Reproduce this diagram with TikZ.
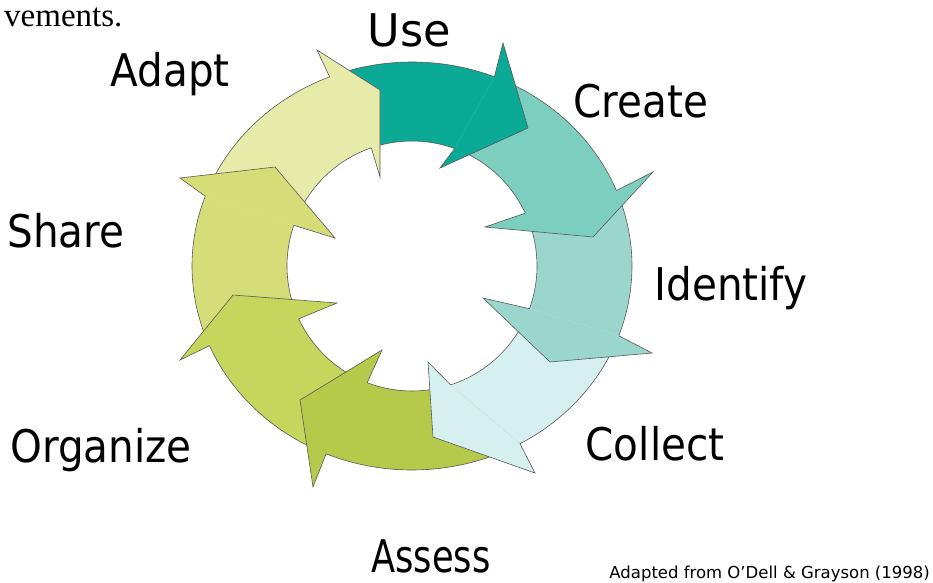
\documentclass[tikz,border=0pt]{standalone}
\usepackage{fontspec}
\newfontfamily\lblfont{DejaVu Sans}[FakeStretch=0.9]
\newfontfamily\notefont{DejaVu Sans}
\newfontfamily\txtfont{Liberation Serif}
\definecolor{cUse}{RGB}{10,170,150}
\definecolor{cCreate}{RGB}{124,207,191}
\definecolor{cIdentify}{RGB}{155,214,204}
\definecolor{cCollect}{RGB}{214,240,240}
\definecolor{cAssess}{RGB}{181,201,74}
\definecolor{cOrganize}{RGB}{196,214,92}
\definecolor{cShare}{RGB}{212,221,120}
\definecolor{cAdapt}{RGB}{230,235,170}
\tikzset{
  ringedge/.style={draw=black!65, line width=0.6pt, line join=miter},
  lbl/.style={font=\lblfont\fontsize{45}{50}\selectfont, anchor=base, inner sep=0pt},
}
% color, outer start, inner start, outer end, inner end
\newcommand\ringbody[5]{%
  \fill[#1] (#2:220 and 204) arc[start angle=#2, end angle=#4, x radius=220, y radius=204]
     -- (#5:125) arc[start angle=#5, end angle=#3, radius=125] -- cycle;
  \draw[ringedge] (#2:220 and 204) arc[start angle=#2, end angle=#4, x radius=220, y radius=204];
  \draw[ringedge] (#3:125) arc[start angle=#3, end angle=#5, radius=125];
}
% color, outer notch angle, inner notch angle, outer barb, tip, inner barb
\newcommand\ringhead[6]{%
  \fill[#1] (#2:220 and 204) -- (#4) -- (#5) -- (#6) -- (#3:125) -- cycle;
  \draw[ringedge] (#2:220 and 204) -- (#4) -- (#5) -- (#6) -- (#3:125);
}
\begin{document}
\begin{tikzpicture}[x=1pt,y=1pt]
\useasboundingbox (0,0) rectangle (933,582);
\fill[white] (0,0) rectangle (933,582);
\begin{scope}[shift={(412,316)}]
  % bodies
  \ringbody{cUse}{112}{109}{66}{68}
  \ringbody{cCreate}{68}{70}{19.7}{23}
  \ringbody{cIdentify}{21.7}{25}{-22}{-22}
  \ringbody{cCollect}{-20}{-20}{-62.6}{-74}
  \ringbody{cAssess}{-60.6}{-72}{-115}{-113}
  \ringbody{cOrganize}{-113}{-111}{-159}{-157}
  \ringbody{cShare}{203}{205}{158}{159}
  \ringbody{cAdapt}{160}{161}{110}{107}
  % heads
  \ringhead{cUse}{68}{70}{91,223}{116,138}{28,98}
  \ringhead{cCreate}{21.7}{25}{241,94}{181,29}{73,39}
  \ringhead{cIdentify}{-20}{-20}{240,-87}{138,-96}{71,-32}
  \ringhead{cCollect}{-60.6}{-72}{123,-207}{21,-171}{16,-96}
  \ringhead{cAssess}{-113}{-111}{-99,-221}{-112,-134}{-30,-84}
  \ringhead{cOrganize}{-157}{-155}{-232,-94}{-179,-29}{-75,-37}
  \ringhead{cShare}{160}{161}{-232,88}{-137,99}{-77,28}
  \ringhead{cAdapt}{112}{109}{-95,216}{-32,176}{-32,89}
\end{scope}
% labels
\node[lbl, transform shape, xscale=1.1] (use) at (409,535) {Use};
\node[lbl] (adapt) at (170,495) {Adapt};
\node[lbl] (create) at (641,464) {Create};
\node[lbl] (share) at (66,335) {Share};
\node[lbl] (identify) at (731,282) {Identify};
\node[lbl] (organize) at (101,120) {Organize};
\node[lbl] (collect) at (655,122) {Collect};
\node[lbl, transform shape, xscale=0.87] (assess) at (431,10) {Assess};
\node[font=\notefont\fontsize{16.5}{19}\selectfont, anchor=base east, inner sep=0pt] (note) at (930,3.5) {Adapted from O’Dell \& Grayson (1998)};
\node[font=\txtfont\fontsize{33}{40}\selectfont, anchor=base west, inner sep=0pt] (prev) at (4,555) {vements.};
\end{tikzpicture}
\end{document}
